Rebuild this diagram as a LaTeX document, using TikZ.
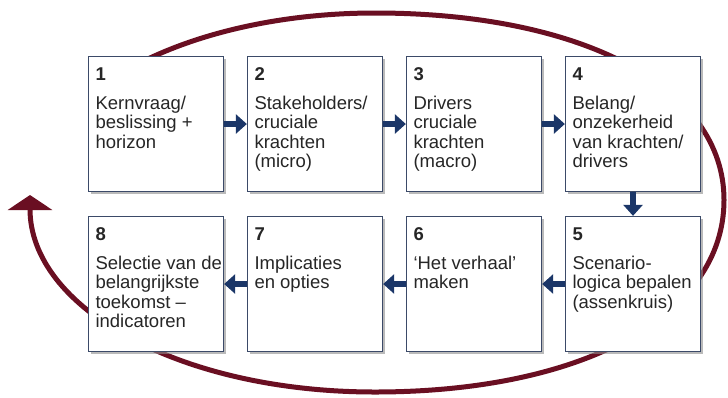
\documentclass[tikz,border=0pt]{standalone}
\usepackage{fontspec}
\setmainfont{Liberation Sans}
\usetikzlibrary{arrows.meta,shadows,backgrounds}

\definecolor{boxline}{HTML}{3B4A68}
\definecolor{navy}{HTML}{1B3668}
\definecolor{maroon}{HTML}{6A0F22}

\tikzset{
  stepbox/.style={rectangle, draw=boxline, line width=1.3bp, fill=white,
    inner xsep=7bp, inner ysep=11bp, minimum size=135bp, text=black!85,
    font=\fontsize{18.5bp}{19.5bp}\selectfont,
    drop shadow={shadow xshift=2bp, shadow yshift=-2.5bp, fill=black!45, opacity=0.6}},
  flow/.style={navy, line width=6bp, -{Triangle[width=19bp,length=11bp]}},
  loop/.style={maroon, line width=5bp, -{Triangle[width=44bp,length=15bp]}}
}
\newcommand\steptext[2]{\parbox[c][113bp][t]{121bp}{\textbf{#1}\\[9.5bp]%
  \begin{tabular}[t]{@{}l@{}}#2\end{tabular}}}

\begin{document}
\begin{tikzpicture}[x=1bp,y=-1bp]
% scenario cycle
\useasboundingbox (0,0) rectangle (728,397);

\node[stepbox] (S1) at (156,124) {\steptext{1}{Kernvraag/\\beslissing +\\horizon}};
\node[stepbox] (S2) at (315,124) {\steptext{2}{Stakeholders/\\cruciale\\krachten\\(micro)}};
\node[stepbox] (S3) at (474,124) {\steptext{3}{Drivers\\cruciale\\krachten\\(macro)}};
\node[stepbox] (S4) at (633,124) {\steptext{4}{Belang/\\onzekerheid\\van krachten/\\drivers}};
\node[stepbox] (S5) at (633,284) {\steptext{5}{Scenario-\\logica bepalen\\(assenkruis)}};
\node[stepbox] (S6) at (474,284) {\steptext{6}{‘Het verhaal’\\maken}};
\node[stepbox] (S7) at (315,284) {\steptext{7}{Implicaties\\en opties}};
\node[stepbox] (S8) at (156,284) {\steptext{8}{Selectie van de\\belangrijkste\\toekomst –\\indicatoren}};

\draw[flow] (S1) edge (S2);
\draw[flow] (S2) edge (S3);
\draw[flow] (S3) edge (S4);
\draw[flow] (S4) edge (S5);
\draw[flow] (S5) edge (S6);
\draw[flow] (S6) edge (S7);
\draw[flow] (S7) edge (S8);

% big loop behind the boxes
\coordinate (L0) at (100,87);
\coordinate (Ltop) at (375,13);
\coordinate (Lright) at (724,200);
\coordinate (Lbot) at (375,392);
\coordinate (Ltip) at (30,195);
\begin{scope}[on background layer]
\draw[loop] (L0) .. controls (165,40) and (267,13) .. (Ltop)
  .. controls (584,13) and (724,88) .. (Lright)
  .. controls (724,315) and (584,392) .. (Lbot)
  .. controls (178,392) and (30,307) .. (Ltip);
\end{scope}

\end{tikzpicture}
\end{document}
